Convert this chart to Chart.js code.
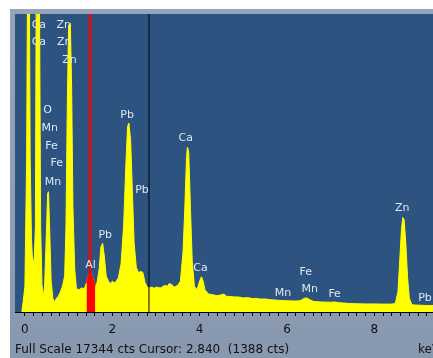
<!DOCTYPE html>
<html>
<head>
<meta charset="utf-8">
<script src="https://cdn.jsdelivr.net/npm/chart.js@4"></script>
<style>
  html, body { margin: 0; padding: 0; background: #fff; overflow: hidden; }
  #wrap { position: absolute; left: 0; top: 0; width: 460px; height: 358px; }
</style>
</head>
<body>
<div id="wrap"><canvas id="spectrum" width="460" height="358"></canvas></div>
<script>
// energy (keV) and counts
const energy = [-0.07, -0.04, 0.00, 0.04, 0.06, 0.10, 0.12, 0.15, 0.17, 0.21, 0.24, 0.26, 0.33, 0.36, 0.39, 0.42,
  0.45, 0.49, 0.52, 0.54, 0.57, 0.60, 0.64, 0.68, 0.72, 0.76, 0.80, 0.86, 0.91, 0.94, 0.97, 1.00, 1.04, 1.07, 1.10,
  1.14, 1.18, 1.24, 1.30, 1.36, 1.41, 1.43, 1.45, 1.49, 1.53, 1.57, 1.61, 1.65, 1.70, 1.74, 1.78, 1.82, 1.86,
  1.92, 1.97, 2.00, 2.04, 2.08, 2.14, 2.20, 2.26, 2.31, 2.35, 2.38, 2.42, 2.46, 2.50, 2.55, 2.60, 2.66, 2.70, 2.75, 2.80,
  2.84, 2.90, 2.96, 3.00, 3.06, 3.10, 3.16, 3.20, 3.26, 3.30, 3.36, 3.42, 3.50, 3.56, 3.62, 3.66, 3.70, 3.72, 3.75, 3.79, 3.83, 3.88,
  3.94, 4.00, 4.04, 4.08, 4.12, 4.20, 4.30, 4.40, 4.50, 4.56, 4.60, 4.70, 4.80, 4.90, 5.00, 5.10, 5.20, 5.30, 5.40, 5.50, 5.60, 5.80,
  6.00, 6.20, 6.30, 6.40, 6.45, 6.52, 6.60, 6.70, 6.80, 7.00, 7.10, 7.20, 7.30, 7.40, 7.60, 7.80, 8.00, 8.20, 8.40, 8.48,
  8.54, 8.58, 8.62, 8.65, 8.68, 8.72, 8.76, 8.80, 8.86, 9.00, 9.20, 9.40, 9.60, 9.90];
const counts = [0, 600, 1500, 9000, 20000, 20000, 9000, 4200, 3300, 2700, 5000, 20000, 20000, 5000, 1600, 870,
  1500, 4500, 6900, 7000, 4500, 1800, 800, 580, 800, 900, 1100, 1500, 2100, 5000, 12000, 16700, 16800, 13000, 6000,
  2500, 1350, 1300, 1400, 1350, 1700, 1900, 2100, 2300, 2200, 1800, 1500, 1700, 2500, 3800, 4000, 3200, 2100,
  1750, 1650, 1800, 1700, 1750, 2000, 2800, 5000, 8500, 10800, 11000, 10000, 7000, 4000, 2600, 2300, 2350, 2300, 1700, 1450,
  1400, 1450, 1380, 1450, 1420, 1400, 1480, 1550, 1500, 1650, 1600, 1450, 1550, 1800, 3500, 6000, 9000, 9600, 9300, 6000, 3000, 1500,
  1300, 1800, 2050, 1800, 1300, 1050, 1000, 950, 1000, 1050, 920, 900, 880, 870, 820, 840, 780, 790, 750, 760, 720, 680,
  650, 640, 660, 800, 820, 720, 620, 600, 580, 570, 580, 540, 520, 500, 480, 470, 470, 460, 460, 500,
  1200, 3000, 4800, 5500, 5400, 4000, 2000, 800, 420, 400, 380, 380, 380, 380];

const fullScale = 17344;
const cursorKeV = 2.840;
const cursorCts = 1388;
const markerKeV = 1.49;          // red marker (Al)
const markerRange = [1.41, 1.63];

const tickLabels = [0, 2, 4, 6, 8];

// peak labels: [text, keV, counts]
const peakLabels = [
  ['Ca', 0.32, 16700], ['Ca', 0.32, 15710], ['Zn', 0.89, 16700], ['Zn', 0.90, 15710], ['Zn', 1.02, 14670],
  ['O', 0.52, 11760], ['Mn', 0.57, 10710], ['Fe', 0.61, 9660], ['Fe', 0.73, 8670], ['Mn', 0.64, 7570],
  ['Pb', 2.34, 11470], ['Pb', 2.68, 7100], ['Pb', 1.84, 4480], ['Al', 1.50, 2740],
  ['Ca', 3.68, 10130], ['Ca', 4.02, 2560], ['Mn', 5.91, 1110], ['Fe', 6.43, 2330], ['Mn', 6.52, 1340],
  ['Fe', 7.09, 1050], ['Zn', 8.64, 6050], ['Pb', 9.16, 810]
];

const points = energy.map((e, i) => ({ x: e, y: counts[i] }));
const redPoints = points.filter(p => p.x >= markerRange[0] && p.x <= markerRange[1]);

const frame = {
  id: 'frame',
  beforeDraw(chart) {
    const { ctx, chartArea: a, width, height } = chart;
    ctx.save();
    ctx.fillStyle = '#fff';
    ctx.fillRect(0, 0, width, height);
    const g = ctx.createLinearGradient(0, 0, 0, height);
    g.addColorStop(0, '#95a6bb');
    g.addColorStop(1, '#8898ae');
    ctx.fillStyle = g;
    ctx.fillRect(10, 9, width - 10, height - 9);
    ctx.fillStyle = '#2d5381';
    ctx.fillRect(a.left, a.top, a.right - a.left, a.bottom - a.top);
    ctx.restore();
  },
  afterDraw(chart) {
    const { ctx, scales: { x, y } } = chart;
    ctx.save();
    ctx.font = '11px "DejaVu Sans", Verdana, sans-serif';
    ctx.textAlign = 'center';
    ctx.textBaseline = 'middle';
    ctx.fillStyle = '#dfe7f1';
    peakLabels.forEach(([t, e, c]) => ctx.fillText(t, x.getPixelForValue(e), y.getPixelForValue(c)));
    ctx.font = '12px "DejaVu Sans", Verdana, sans-serif';
    ctx.fillStyle = '#111';
    ctx.textAlign = 'left';
    ctx.fillText('Full Scale ' + fullScale + ' cts Cursor: ' + cursorKeV.toFixed(3) + '  (' + cursorCts + ' cts)', 15, 350);
    ctx.fillText('keV', 418, 350);
    ctx.restore();
  }
};

new Chart(document.getElementById('spectrum'), {
  type: 'line',
  data: {
    datasets: [
      { data: [{ x: cursorKeV, y: 0 }, { x: cursorKeV, y: fullScale }], borderColor: '#000', borderWidth: 1, fill: false, order: 0 },
      { data: [{ x: markerKeV, y: 0 }, { x: markerKeV, y: fullScale }], borderColor: '#ff0000', borderWidth: 2.5, fill: false, order: 1 },
      { data: redPoints, borderColor: '#ff0000', backgroundColor: '#ff0000', borderWidth: 1, fill: 'origin', order: 2 },
      { data: points, borderColor: '#ffff00', backgroundColor: '#ffff00', borderWidth: 1, fill: 'origin', order: 3 }
    ]
  },
  options: {
    responsive: false,
    animation: false,
    events: [],
    elements: { point: { radius: 0 }, line: { tension: 0 } },
    layout: { padding: { left: 15, top: 14, right: 0, bottom: 0 } },
    plugins: { legend: { display: false }, tooltip: { enabled: false } },
    scales: {
      x: {
        type: 'linear',
        min: -0.227,
        max: -0.227 + 445 / 44,
        afterFit: s => { s.height = 46; },
        afterBuildTicks: s => {
          const t = [];
          for (let i = 0; i <= 49; i++) t.push({ value: Math.round(i * 0.2 * 10) / 10 });
          s.ticks = t;
        },
        border: { color: '#000', width: 1 },
        grid: { drawOnChartArea: false, tickLength: 4, tickColor: '#000' },
        ticks: {
          autoSkip: false,
          maxRotation: 0,
          padding: 7,
          color: '#111',
          font: { family: '"DejaVu Sans", Verdana, sans-serif', size: 12 },
          callback: v => tickLabels.includes(v) ? String(v) : ''
        }
      },
      y: { display: false, min: 0, max: fullScale }
    }
  },
  plugins: [frame]
});
</script>
</body>
</html>
